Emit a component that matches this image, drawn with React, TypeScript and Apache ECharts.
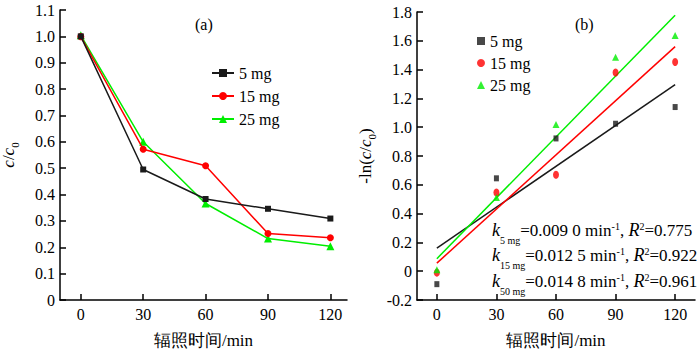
import React, { useEffect, useRef } from 'react';
import * as echarts from 'echarts';

// ---- data ----
const times = [0, 30, 60, 90, 120];
const xTicks = [0, 30, 60, 90, 120];
const seriesNames = ['5 mg', '15 mg', '25 mg'];
const seriesColors = ['#1a1a1a', '#ff0000', '#00ee00'];
const seriesSymbols = ['rect', 'circle', 'triangle'];

// panel (a): c/c0
const ratio5 = [1.0, 0.495, 0.383, 0.346, 0.309];
const ratio15 = [0.999, 0.572, 0.509, 0.252, 0.236];
const ratio25 = [1.004, 0.6, 0.366, 0.233, 0.204];

// panel (b): -ln(c/c0)
const lnRatio5 = [-0.09, 0.645, 0.922, 1.024, 1.14];
const lnRatio15 = [-0.01, 0.546, 0.67, 1.38, 1.453];
const lnRatio25 = [0.01, 0.511, 1.019, 1.486, 1.636];

// annotation texts
const kSubs = ['5 mg', '15 mg', '50 mg'];
const kValues = ['0.009 0', '0.012 5', '0.014 8'];
const r2Values = ['0.775', '0.922', '0.961'];

const FONT = 'Liberation Serif';

function linFit(xs: number[], ys: number[]) {
  const n = xs.length;
  const mx = xs.reduce((a, b) => a + b, 0) / n;
  const my = ys.reduce((a, b) => a + b, 0) / n;
  let sxy = 0;
  let sxx = 0;
  for (let i = 0; i < n; i++) {
    sxy += (xs[i] - mx) * (ys[i] - my);
    sxx += (xs[i] - mx) * (xs[i] - mx);
  }
  const b = sxy / sxx;
  const a = my - b * mx;
  return { a, b };
}

const fmt = (v: number) => (Math.abs(v) < 1e-9 ? '0' : v.toFixed(1));

export default function App() {
  const ref = useRef<HTMLDivElement>(null);
  useEffect(() => {
    const chart = echarts.init(ref.current!, null, { renderer: 'svg' });
    const leftData = [ratio5, ratio15, ratio25];
    const rightData = [lnRatio5, lnRatio15, lnRatio25];

    const axisCommon = {
      axisLine: { show: true, onZero: false, lineStyle: { color: '#000', width: 1.5 } },
      splitLine: { show: false },
    };
    const labelStyle = { fontSize: 16, color: '#000', fontFamily: FONT };

    const xAxis = (gridIndex: number, max: number) => ({
      type: 'value',
      gridIndex,
      min: -10,
      max,
      ...axisCommon,
      axisTick: { show: true, inside: true, length: 6, customValues: xTicks, lineStyle: { color: '#000', width: 1.5 } },
      axisLabel: { ...labelStyle, margin: 6, customValues: xTicks },
      name: '辐照时间/min',
      nameLocation: 'middle',
      nameGap: 32,
      nameTextStyle: { fontSize: 17, color: '#000', fontFamily: FONT },
    });

    const nameRich = {
      i: { fontStyle: 'italic', fontSize: 17, lineHeight: 24, fontFamily: FONT, color: '#000' },
      n: { fontSize: 17, lineHeight: 24, fontFamily: FONT, color: '#000' },
      s: { fontSize: 11, lineHeight: 11, verticalAlign: 'bottom', fontFamily: FONT, color: '#000' },
    };

    const yAxis = (gridIndex: number, min: number, max: number, interval: number, name: string) => ({
      type: 'value',
      gridIndex,
      min,
      max,
      interval,
      ...axisCommon,
      axisTick: { show: true, inside: true, length: 6, lineStyle: { color: '#000', width: 1.5 } },
      axisLabel: { ...labelStyle, margin: 5, formatter: fmt },
      name,
      nameLocation: 'middle',
      nameGap: 40,
      nameTextStyle: { rich: nameRich, fontSize: 17, color: '#000', fontFamily: FONT },
    });

    const series: any[] = [];
    seriesNames.forEach((nm, si) => {
      series.push({
        type: 'line',
        name: nm,
        xAxisIndex: 0,
        yAxisIndex: 0,
        data: times.map((t, i) => [t, leftData[si][i]]),
        symbol: seriesSymbols[si],
        symbolSize: si === 0 ? 6 : si === 1 ? 7 : 8,
        lineStyle: { color: seriesColors[si], width: 1.5 },
        itemStyle: { color: seriesColors[si] },
        z: 3 - si,
      });
    });
    seriesNames.forEach((nm, si) => {
      const fit = linFit(times, rightData[si]);
      series.push({
        type: 'line',
        name: 'fit:' + nm,
        xAxisIndex: 1,
        yAxisIndex: 1,
        data: [0, 120].map((t) => [t, fit.a + fit.b * t]),
        symbol: 'none',
        showSymbol: false,
        lineStyle: { color: seriesColors[si], width: 1.5 },
        itemStyle: { color: seriesColors[si] },
        z: 2,
      });
    });
    seriesNames.forEach((nm, si) => {
      series.push({
        type: 'scatter',
        name: 'b:' + nm,
        xAxisIndex: 1,
        yAxisIndex: 1,
        data: times.map((t, i) => [t, rightData[si][i]]),
        symbol: seriesSymbols[si],
        symbolSize: si === 0 ? [5, 6] : si === 1 ? [6, 8] : [7, 7],
        itemStyle: { color: seriesColors[si] },
        z: 3,
      });
    });

    const annRich = {
      k: { fontStyle: 'italic', fontSize: 18, lineHeight: 30, fontFamily: FONT, color: '#000' },
      t: { fontSize: 17, lineHeight: 30, fontFamily: FONT, color: '#000' },
      sub: { fontSize: 10, verticalAlign: 'bottom', fontFamily: FONT, color: '#000' },
      sup: { fontSize: 10, verticalAlign: 'top', padding: [6, 0, 0, 0], fontFamily: FONT, color: '#000' },
    };
    const annTops = [215, 240, 266];

    const titles: any[] = [
      { text: '(a)', left: 190, top: 11, textStyle: { fontSize: 16, fontWeight: 'normal', color: '#000', fontFamily: FONT } },
      { text: '(b)', left: 570, top: 11, textStyle: { fontSize: 16, fontWeight: 'normal', color: '#000', fontFamily: FONT } },
    ];
    kSubs.forEach((sub, i) => {
      titles.push({
        text: `{k|k}{sub|${sub}}{t|=${kValues[i]} min}{sup|-1}{t|, }{k|R}{sup|2}{t|=${r2Values[i]}}`,
        left: 492,
        top: annTops[i],
        padding: 0,
        textStyle: { rich: annRich, fontSize: 17, fontWeight: 'normal', color: '#000', fontFamily: FONT },
      });
    });

    chart.setOption({
      animation: false,
      backgroundColor: '#fff',
      textStyle: { fontFamily: FONT, color: '#000' },
      title: titles,
      grid: [
        { left: 60, top: 10, width: 287, height: 290, containLabel: false, outerBoundsMode: 'none' },
        { left: 417, top: 12, width: 278, height: 288, containLabel: false, outerBoundsMode: 'none' },
      ],
      xAxis: [xAxis(0, 128), xAxis(1, 130)],
      yAxis: [
        yAxis(0, 0, 1.1, 0.1, '{i|c}{n|/}{i|c}{s|0}'),
        yAxis(1, -0.2, 1.8, 0.2, '{n|-ln(}{i|c}{n|/}{i|c}{s|0}{n|)}'),
      ],
      legend: [
        {
          data: seriesNames,
          orient: 'vertical',
          left: 211,
          top: 65,
          itemWidth: 22,
          itemHeight: 10,
          itemGap: 7,
          padding: 0,
          textStyle: { fontSize: 16, color: '#000', fontFamily: FONT },
        },
        {
          data: seriesNames.map((n) => 'b:' + n),
          orient: 'vertical',
          left: 477,
          top: 33,
          itemWidth: 8,
          itemHeight: 8,
          itemGap: 6,
          padding: 0,
          formatter: (n: string) => n.replace('b:', ''),
          textStyle: { fontSize: 16, color: '#000', fontFamily: FONT },
        },
      ],
      series,
    });
    return () => chart.dispose();
  }, []);
  return <div ref={ref} style={{ position: 'fixed', left: 0, top: 0, width: 700, height: 350 }} />;
}
